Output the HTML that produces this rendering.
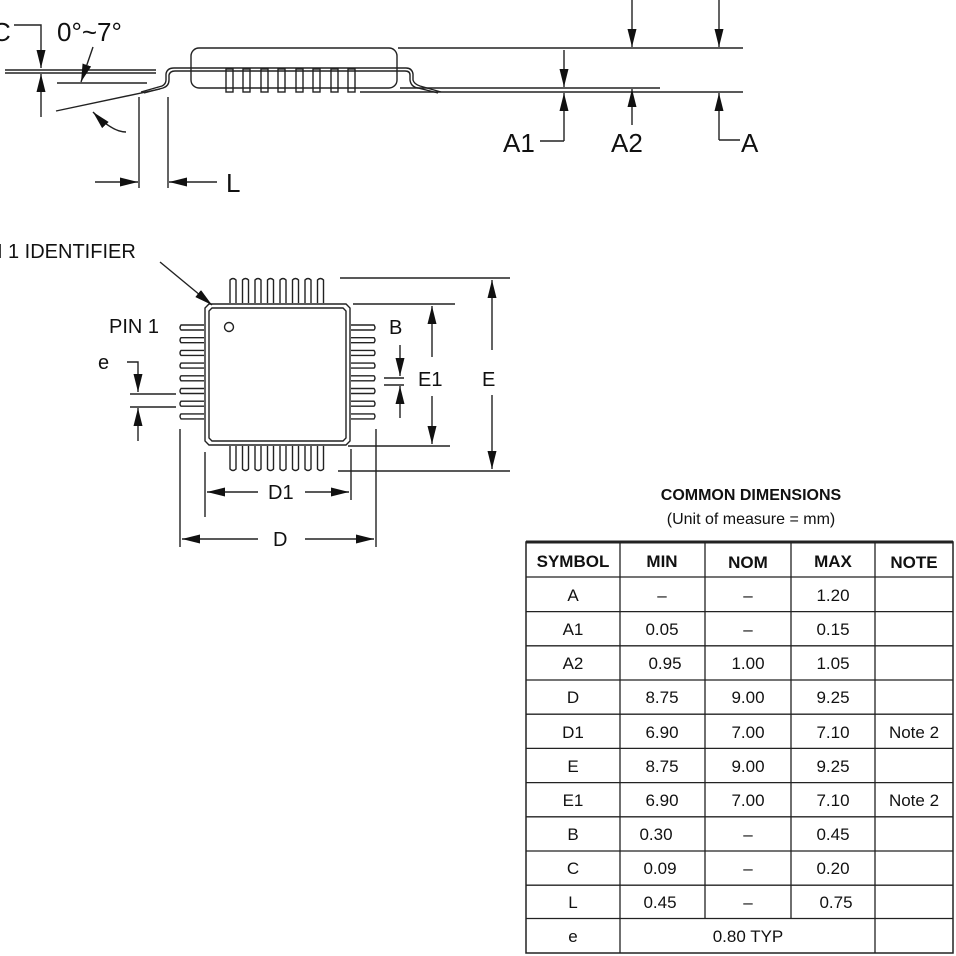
<!DOCTYPE html>
<html><head><meta charset="utf-8"><style>
html,body{margin:0;padding:0;background:#fff;width:956px;height:956px;overflow:hidden}
svg{display:block}
text{font-family:"Liberation Sans",Arial,sans-serif;fill:#111}
</style></head><body>
<svg width="956" height="956" viewBox="0 0 956 956" xmlns="http://www.w3.org/2000/svg">
<defs>
<marker id="ar" viewBox="0 0 10 10" refX="10" refY="5" markerWidth="18" markerHeight="9" markerUnits="userSpaceOnUse" orient="auto" preserveAspectRatio="none"><path d="M0,0 L10,5 L0,10 z" fill="#111"/></marker>
</defs>
<g stroke="#222" stroke-width="1.4" fill="none">
<!-- side view -->
<line x1="5" y1="70" x2="156" y2="70"/><line x1="5" y1="73" x2="156" y2="73"/>
<line x1="57" y1="83" x2="147" y2="83"/>
<line x1="56" y1="111" x2="160" y2="89"/>
<path d="M14,25 H41 V68" marker-end="url(#ar)"/>
<path d="M41,117 V74" marker-end="url(#ar)"/>
<path d="M93,47 L81,82" marker-end="url(#ar)"/>
<path d="M126,132 Q112,132 93,112" marker-end="url(#ar)"/>
<line x1="139" y1="97" x2="139" y2="188"/><line x1="168" y1="97" x2="168" y2="188"/>
<path d="M95,182 H138" marker-end="url(#ar)"/>
<path d="M217,182 H169" marker-end="url(#ar)"/>
<rect x="191" y="48" width="206" height="40" rx="8"/>
<path d="M141,92 L162,86 Q166,84 166,80 V74 Q167,68 174,68 H406 Q412,68 413,74 V80 Q414,84 420,86 L441,92"/>
<path d="M144,93 L163,88 Q169,86 169,80 V75 Q170,71 175,71 H405 Q410,71 410,75 V80 Q411,87 418,88 L438,93"/>
<g>
<rect x="226" y="69" width="7" height="23"/><rect x="243" y="69" width="7" height="23"/><rect x="261" y="69" width="7" height="23"/><rect x="278" y="69" width="7" height="23"/><rect x="296" y="69" width="7" height="23"/><rect x="313" y="69" width="7" height="23"/><rect x="331" y="69" width="7" height="23"/><rect x="348" y="69" width="7" height="23"/>
</g>
<line x1="398" y1="48" x2="743" y2="48"/>
<line x1="360" y1="92" x2="743" y2="92"/>
<line x1="400" y1="88" x2="660" y2="88"/>
<path d="M632,0 V47" marker-end="url(#ar)"/>
<path d="M719,0 V47" marker-end="url(#ar)"/>
<path d="M564,50 V87" marker-end="url(#ar)"/>
<path d="M564,141 V93" marker-end="url(#ar)"/>
<path d="M632,125 V89" marker-end="url(#ar)"/>
<path d="M719,140 H740 M719,140 V93" marker-end="url(#ar)"/>
<path d="M540,141 H564"/>
<!-- top view -->
<path d="M209,304 H346 L350,308 V441 L346,445 H209 L205,441 V308 Z"/>
<path d="M212,308 H343 L346,311 V438 L343,441 H212 L209,438 V311 Z"/>
<circle cx="229" cy="327" r="4.5"/>
<path d="M160,262 L212,305" marker-end="url(#ar)"/>
<g>
<path d="M230,303 V280 Q233,277 236,280 V303 M242.5,303 V280 Q245.5,277 248.5,280 V303 M255,303 V280 Q258,277 261,280 V303 M267.5,303 V280 Q270.5,277 273.5,280 V303 M280,303 V280 Q283,277 286,280 V303 M292.5,303 V280 Q295.5,277 298.5,280 V303 M305,303 V280 Q308,277 311,280 V303 M317.5,303 V280 Q320.5,277 323.5,280 V303"/>
<path d="M230,446 V469 Q233,472 236,469 V446 M242.5,446 V469 Q245.5,472 248.5,469 V446 M255,446 V469 Q258,472 261,469 V446 M267.5,446 V469 Q270.5,472 273.5,469 V446 M280,446 V469 Q283,472 286,469 V446 M292.5,446 V469 Q295.5,472 298.5,469 V446 M305,446 V469 Q308,472 311,469 V446 M317.5,446 V469 Q320.5,472 323.5,469 V446"/>
<path d="M204,325 H181 Q179,328 181,330 H204 M204,337.7 H181 Q179,340 181,342.7 H204 M204,350.4 H181 Q179,353 181,355.4 H204 M204,363.1 H181 Q179,366 181,368.1 H204 M204,375.8 H181 Q179,378 181,380.8 H204 M204,388.5 H181 Q179,391 181,393.5 H204 M204,401.2 H181 Q179,404 181,406.2 H204 M204,413.9 H181 Q179,416 181,418.9 H204"/>
<path d="M351,325 H374 Q376,328 374,330 H351 M351,337.7 H374 Q376,340 374,342.7 H351 M351,350.4 H374 Q376,353 374,355.4 H351 M351,363.1 H374 Q376,366 374,368.1 H351 M351,375.8 H374 Q376,378 374,380.8 H351 M351,388.5 H374 Q376,391 374,393.5 H351 M351,401.2 H374 Q376,404 374,406.2 H351 M351,413.9 H374 Q376,416 374,418.9 H351"/>
</g>
<path d="M127,362 H138 V392" marker-end="url(#ar)"/>
<line x1="130" y1="394" x2="176" y2="394"/><line x1="130" y1="407" x2="176" y2="407"/>
<path d="M138,441 V408" marker-end="url(#ar)"/>
<path d="M400,345 V376" marker-end="url(#ar)"/>
<path d="M400,418 V386" marker-end="url(#ar)"/>
<line x1="384" y1="378" x2="404" y2="378"/><line x1="384" y1="385" x2="404" y2="385"/>
<line x1="353" y1="304" x2="455" y2="304"/>
<line x1="348" y1="446" x2="450" y2="446"/>
<path d="M432,357 V306" marker-end="url(#ar)"/>
<path d="M432,396 V444" marker-end="url(#ar)"/>
<line x1="340" y1="278" x2="510" y2="278"/>
<line x1="338" y1="471" x2="510" y2="471"/>
<path d="M492,350 V280" marker-end="url(#ar)"/>
<path d="M492,395 V469" marker-end="url(#ar)"/>
<line x1="205" y1="452" x2="205" y2="517"/><line x1="351" y1="449" x2="351" y2="500"/>
<path d="M258,492 H207" marker-end="url(#ar)"/>
<path d="M305,492 H349" marker-end="url(#ar)"/>
<line x1="180" y1="429" x2="180" y2="547"/><line x1="376" y1="429" x2="376" y2="547"/>
<path d="M258,539 H182" marker-end="url(#ar)"/>
<path d="M305,539 H374" marker-end="url(#ar)"/>
</g>
<g font-size="26">
<text x="-8" y="41">C</text>
<text x="57" y="41">0°~7°</text>
<text x="226" y="192">L</text>
<text x="503" y="152">A1</text>
<text x="611" y="152">A2</text>
<text x="741" y="152">A</text>
</g>
<g font-size="20">
<text x="-12" y="258">N 1 IDENTIFIER</text>
<text x="109" y="333">PIN 1</text>
<text x="98" y="369">e</text>
<text x="389" y="334">B</text>
<text x="418" y="386">E1</text>
<text x="482" y="386">E</text>
<text x="268" y="499">D1</text>
<text x="273" y="546">D</text>
</g>
<!-- table -->
<text x="751" y="500" font-size="16" font-weight="bold" text-anchor="middle">COMMON DIMENSIONS</text>
<text x="751" y="524" font-size="16" text-anchor="middle">(Unit of measure = mm)</text>
<g stroke="#222" fill="none">
<rect x="526" y="542" width="427" height="411" stroke-width="1.5"/>
<line x1="526" y1="542" x2="953" y2="542" stroke-width="3"/>
<g stroke-width="1.3">
<line x1="620" y1="542" x2="620" y2="953"/>
<line x1="705" y1="542" x2="705" y2="918"/>
<line x1="791" y1="542" x2="791" y2="918"/>
<line x1="875" y1="542" x2="875" y2="953"/>
<line x1="526" y1="577" x2="953" y2="577"/>
<line x1="526" y1="611.6" x2="953" y2="611.6"/>
<line x1="526" y1="645.8" x2="953" y2="645.8"/>
<line x1="526" y1="680" x2="953" y2="680"/>
<line x1="526" y1="714.2" x2="953" y2="714.2"/>
<line x1="526" y1="748.4" x2="953" y2="748.4"/>
<line x1="526" y1="782.6" x2="953" y2="782.6"/>
<line x1="526" y1="816.8" x2="953" y2="816.8"/>
<line x1="526" y1="851" x2="953" y2="851"/>
<line x1="526" y1="885.2" x2="953" y2="885.2"/>
<line x1="526" y1="918.5" x2="953" y2="918.5"/>
</g>
</g>
<g font-size="17" text-anchor="middle">
<g font-weight="bold"><text x="573" y="567">SYMBOL</text><text x="662" y="567">MIN</text><text x="748" y="568">NOM</text><text x="833" y="567">MAX</text><text x="914" y="568">NOTE</text></g>
<text x="573" y="601">A</text><text x="662" y="601">–</text><text x="748" y="601">–</text><text x="833" y="601">1.20</text>
<text x="573" y="635">A1</text><text x="662" y="635">0.05</text><text x="748" y="635">–</text><text x="833" y="635">0.15</text>
<text x="573" y="669">A2</text><text x="665" y="669">0.95</text><text x="748" y="669">1.00</text><text x="833" y="669">1.05</text>
<text x="573" y="703">D</text><text x="662" y="703">8.75</text><text x="748" y="703">9.00</text><text x="833" y="703">9.25</text>
<text x="573" y="738">D1</text><text x="662" y="738">6.90</text><text x="748" y="738">7.00</text><text x="833" y="738">7.10</text><text x="914" y="738">Note 2</text>
<text x="573" y="772">E</text><text x="662" y="772">8.75</text><text x="748" y="772">9.00</text><text x="833" y="772">9.25</text>
<text x="573" y="806">E1</text><text x="662" y="806">6.90</text><text x="748" y="806">7.00</text><text x="833" y="806">7.10</text><text x="914" y="806">Note 2</text>
<text x="573" y="840">B</text><text x="656" y="840">0.30</text><text x="748" y="840">–</text><text x="833" y="840">0.45</text>
<text x="573" y="874">C</text><text x="660" y="874">0.09</text><text x="748" y="874">–</text><text x="833" y="874">0.20</text>
<text x="573" y="908">L</text><text x="660" y="908">0.45</text><text x="748" y="908">–</text><text x="836" y="908">0.75</text>
<text x="573" y="942">e</text><text x="748" y="942">0.80 TYP</text>
</g>
</svg>
</body></html>
